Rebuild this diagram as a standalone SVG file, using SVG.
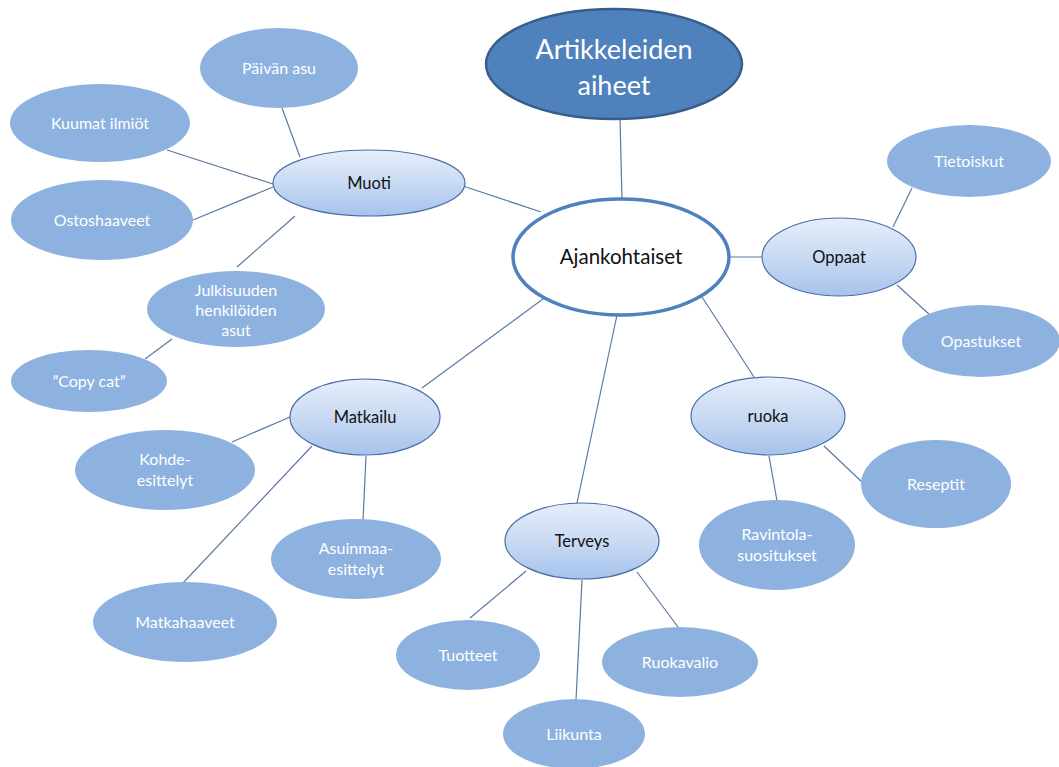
<svg xmlns="http://www.w3.org/2000/svg" width="1059" height="767" viewBox="0 0 1059 767">
<defs>
<linearGradient id="g" x1="0" y1="0" x2="0" y2="1">
<stop offset="0" stop-color="#e6eefa"/>
<stop offset="0.5" stop-color="#c9daf3"/>
<stop offset="1" stop-color="#a6c2ec"/>
</linearGradient>
<style>
.c line{stroke:#5a7aa6;stroke-width:1.2}
.leaf ellipse{fill:#8db2e0}
.leaf text{fill:#ffffff;font-family:Lato,"Open Sans",sans-serif;font-size:16px;text-anchor:middle}
.mid ellipse{fill:url(#g);stroke:#4a6fa5;stroke-width:1.2}
.mid text{fill:#111;font-family:Lato,"Open Sans",sans-serif;font-size:16.5px;text-anchor:middle}
</style>
</defs>
<rect width="1059" height="767" fill="#ffffff"/>
<g class="c" id="connectors">
<line x1="620" y1="118" x2="622" y2="199"/>
<line x1="541" y1="212" x2="463" y2="186"/>
<line x1="731" y1="257" x2="764" y2="257"/>
<line x1="547" y1="296" x2="422" y2="388"/>
<line x1="617" y1="315" x2="577" y2="503"/>
<line x1="702" y1="297" x2="754" y2="377"/>
<line x1="300" y1="157" x2="282" y2="108"/>
<line x1="167" y1="150" x2="273" y2="184"/>
<line x1="193" y1="220" x2="273" y2="187"/>
<line x1="295" y1="216" x2="237" y2="267"/>
<line x1="172" y1="339" x2="145" y2="359"/>
<line x1="912" y1="188" x2="893" y2="227"/>
<line x1="897" y1="285" x2="930" y2="315"/>
<line x1="290" y1="417" x2="232" y2="442"/>
<line x1="312" y1="446" x2="183" y2="583"/>
<line x1="366" y1="456" x2="363" y2="521"/>
<line x1="526" y1="571" x2="470" y2="618"/>
<line x1="582" y1="580" x2="576" y2="700"/>
<line x1="637" y1="572" x2="678" y2="627"/>
<line x1="824" y1="446" x2="863" y2="483"/>
<line x1="769" y1="456" x2="777" y2="501"/>
</g>
<g id="title">
<ellipse cx="614" cy="64" rx="128" ry="55" fill="#4f81bd" stroke="#385d8a" stroke-width="2.5"/>
<text x="614" y="59" font-family="Lato,'Open Sans',sans-serif" font-size="27" fill="#fff" text-anchor="middle">Artikkeleiden</text>
<text x="614" y="95" font-family="Lato,'Open Sans',sans-serif" font-size="27" fill="#fff" text-anchor="middle">aiheet</text>
</g>
<g id="center">
<ellipse cx="621" cy="257" rx="108" ry="58" fill="#ffffff" stroke="#4f81bd" stroke-width="3.5"/>
<text x="621" y="264" font-family="Lato,'Open Sans',sans-serif" font-size="20.5" fill="#111" text-anchor="middle">Ajankohtaiset</text>
</g>
<g id="muoti" class="mid"><ellipse cx="369" cy="183" rx="96" ry="33"/><text x="369" y="189">Muoti</text></g>
<g id="oppaat" class="mid"><ellipse cx="839" cy="257" rx="77" ry="39"/><text x="839" y="263">Oppaat</text></g>
<g id="matkailu" class="mid"><ellipse cx="365" cy="417" rx="75" ry="38"/><text x="365" y="423">Matkailu</text></g>
<g id="terveys" class="mid"><ellipse cx="582" cy="541" rx="77" ry="38"/><text x="582" y="547">Terveys</text></g>
<g id="ruoka" class="mid"><ellipse cx="768" cy="416" rx="77" ry="39"/><text x="768" y="422">ruoka</text></g>
<g id="paivan-asu" class="leaf"><ellipse cx="279" cy="68" rx="79" ry="40"/><text x="279" y="74">Päivän asu</text></g>
<g id="kuumat" class="leaf"><ellipse cx="100" cy="123" rx="90" ry="39"/><text x="100" y="129">Kuumat ilmiöt</text></g>
<g id="ostoshaaveet" class="leaf"><ellipse cx="102" cy="220" rx="91" ry="40"/><text x="102" y="226">Ostoshaaveet</text></g>
<g id="julkisuuden" class="leaf"><ellipse cx="236" cy="309" rx="89" ry="38"/><text x="236" y="296">Julkisuuden</text><text x="236" y="316">henkilöiden</text><text x="236" y="336">asut</text></g>
<g id="copycat" class="leaf"><ellipse cx="89" cy="381" rx="78" ry="31"/><text x="89" y="387">”Copy cat”</text></g>
<g id="tietoiskut" class="leaf"><ellipse cx="969" cy="161" rx="82" ry="36"/><text x="969" y="167">Tietoiskut</text></g>
<g id="opastukset" class="leaf"><ellipse cx="981" cy="341" rx="79" ry="36"/><text x="981" y="347">Opastukset</text></g>
<g id="kohde" class="leaf"><ellipse cx="165" cy="470" rx="90" ry="40"/><text x="165" y="465">Kohde-</text><text x="165" y="486">esittelyt</text></g>
<g id="asuinmaa" class="leaf"><ellipse cx="356" cy="559" rx="85" ry="40"/><text x="356" y="554">Asuinmaa-</text><text x="356" y="575">esittelyt</text></g>
<g id="matkahaaveet" class="leaf"><ellipse cx="185" cy="622" rx="92" ry="40"/><text x="185" y="628">Matkahaaveet</text></g>
<g id="tuotteet" class="leaf"><ellipse cx="468" cy="655" rx="72" ry="35"/><text x="468" y="661">Tuotteet</text></g>
<g id="liikunta" class="leaf"><ellipse cx="574" cy="734" rx="71" ry="35"/><text x="574" y="740">Liikunta</text></g>
<g id="ruokavalio" class="leaf"><ellipse cx="680" cy="662" rx="78" ry="35"/><text x="680" y="668">Ruokavalio</text></g>
<g id="reseptit" class="leaf"><ellipse cx="936" cy="484" rx="75" ry="44"/><text x="936" y="490">Reseptit</text></g>
<g id="ravintola" class="leaf"><ellipse cx="777" cy="545" rx="78" ry="45"/><text x="777" y="540">Ravintola-</text><text x="777" y="561">suositukset</text></g>
</svg>
